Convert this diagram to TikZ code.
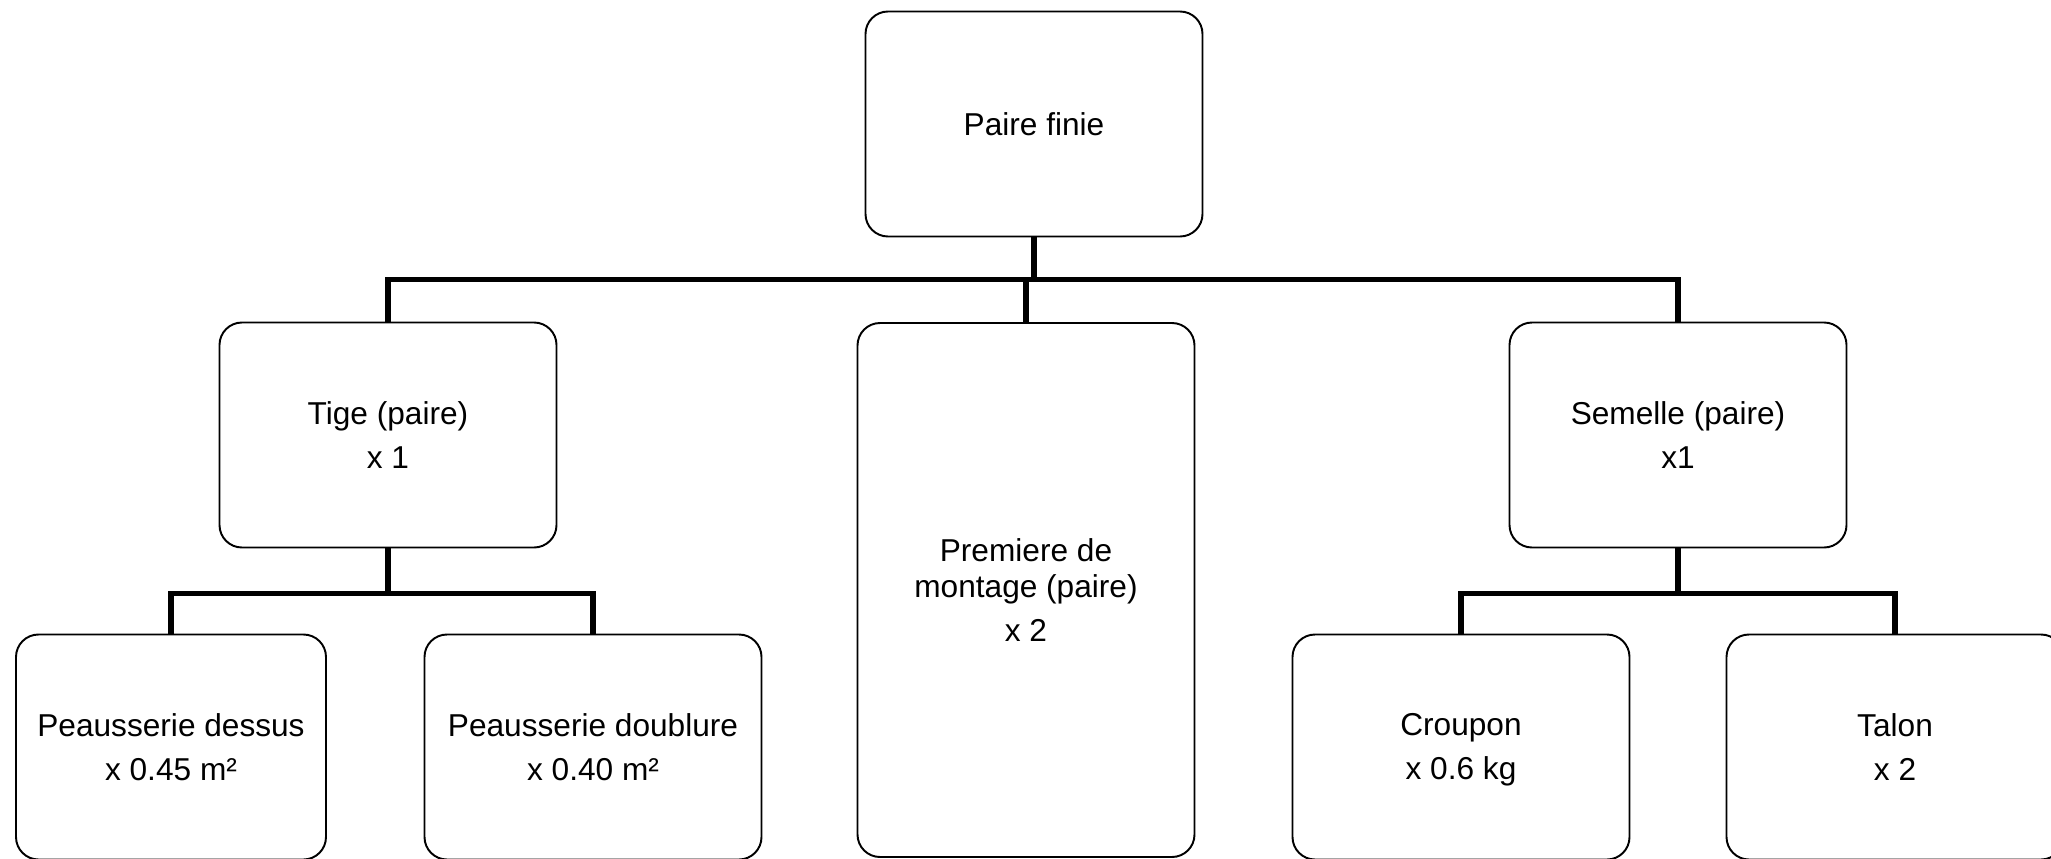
\documentclass[tikz,border=0pt]{standalone}
\usepackage{fontspec}
\setmainfont{Liberation Sans}
\usepackage{xcolor}

\begin{document}
\begin{tikzpicture}[auto,
        % Define block style
        block/.style={
        rectangle,
        draw,
        line width=1.1pt,
        text centered,
        align=center,
        rounded corners=0.45cm,
        minimum width=6.74cm,
        minimum height=4.5cm,
        font=\fontsize{18}{20.5}\selectfont
        },
        conn/.style={line width=3.2pt}]
        \useasboundingbox (0,0) rectangle (41.02,17.16);
        \clip (0,0) rectangle (41.02,17.16);
        % Nodes
        \node[block] (finie) at (20.68,14.68) {Paire finie};
        \node[block] (tige) at (7.76,8.46) {Tige (paire)\\[4.5pt] x 1};
        \node[block, right of=tige, node distance=25.8cm] (semelle) {Semelle (paire)\\[4.5pt] x1};
        \node[block, below of=finie, node distance=9.32cm, xshift=-0.16cm, minimum height=10.68cm] (premiere) {Premiere de\\ montage (paire)\\[4.5pt] x 2};
        \node[block, below of=tige, node distance=6.24cm, xshift=-4.34cm, minimum width=6.2cm] (dessus) {Peausserie dessus\\[4.5pt] x 0.45 m²};
        \node[block, right of=dessus, node distance=8.44cm] (doublure) {Peausserie doublure\\[4.5pt] x 0.40 m²};
        \node[block, below of=semelle, node distance=6.24cm, xshift=-4.34cm] (croupon) {Croupon\\[4.5pt] x 0.6 k\smash{g}};
        \node[block, right of=croupon, node distance=8.68cm] (talon) {Talon\\[4.5pt] x 2};

        % Connectors
        \coordinate (topbar) at ([yshift=-0.84cm]finie.south);
        \coordinate (tigebar) at ([yshift=-0.9cm]tige.south);
        \coordinate (semellebar) at ([yshift=-0.9cm]semelle.south);
        \draw[conn] (finie.south) -- (topbar);
        \draw[conn] (tige.north) |- (topbar) -| (semelle.north);
        \draw[conn] (premiere.north) -- (premiere.north |- topbar);
        \draw[conn] (tige.south) -- (tigebar);
        \draw[conn] (dessus.north) |- (tigebar) -| (doublure.north);
        \draw[conn] (semelle.south) -- (semellebar);
        \draw[conn] (croupon.north) |- (semellebar) -| (talon.north);
    \end{tikzpicture}
\end{document}
